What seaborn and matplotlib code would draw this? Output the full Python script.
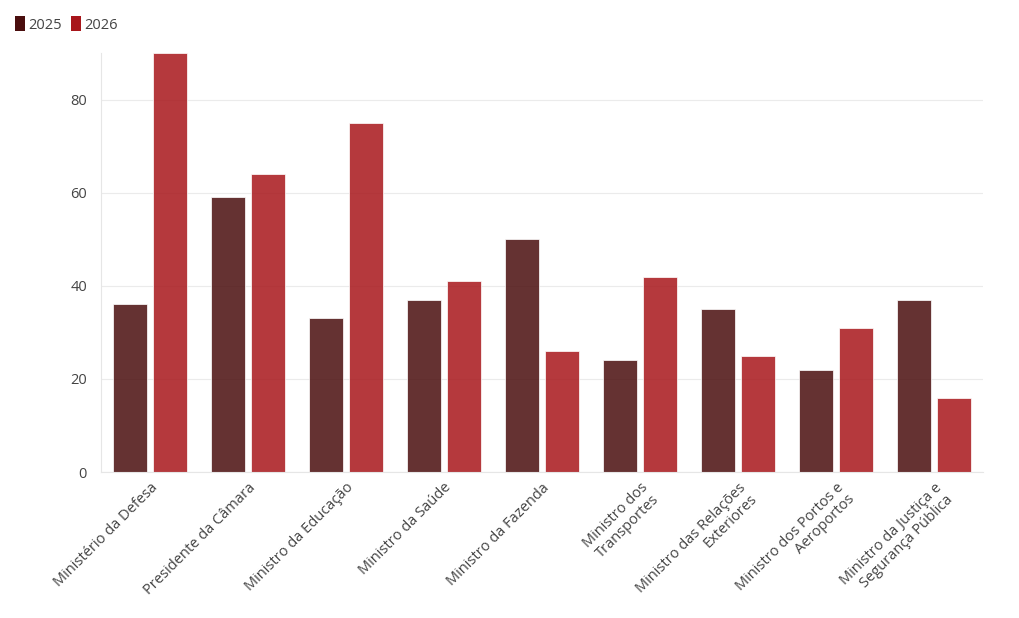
import matplotlib.pyplot as plt
import matplotlib.patches as mpatches
import seaborn as sns
import pandas as pd

sns.set_theme(style="white")
plt.rcParams["font.family"] = ["Open Sans", "DejaVu Sans"]

# data
cargos = [
    "Ministério da Defesa",
    "Presidente da Câmara",
    "Ministro da Educação",
    "Ministro da Saúde",
    "Ministro da Fazenda",
    "Ministro dos\nTransportes",
    "Ministro das Relações\nExteriores",
    "Ministro dos Portos e\nAeroportos",
    "Ministro da Justiça e\nSegurança Pública",
]
v2025 = [36, 59, 33, 37, 50, 24, 35, 22, 37]
v2026 = [90, 64, 75, 41, 26, 42, 25, 31, 16]
anos = ["2025", "2026"]
cores = {"2025": "#4a0e0e", "2026": "#a8161b"}

df = pd.DataFrame({
    "cargo": cargos * 2,
    "ano": ["2025"] * len(cargos) + ["2026"] * len(cargos),
    "valor": v2025 + v2026,
})

fig = plt.figure(figsize=(10.2, 6.18), dpi=100)
ax = fig.add_axes([0.099, 0.2362, 0.8647, 0.6778])

sns.barplot(data=df, x="cargo", y="valor", hue="ano", hue_order=anos,
            palette=cores, saturation=1, width=0.8, gap=0.13, alpha=0.85,
            edgecolor="white", linewidth=0.6, legend=False, ax=ax)

ax.set_xlim(-0.5, len(cargos) - 0.5)
ax.set_ylim(0, 90)
ax.set_yticks([0, 20, 40, 60, 80])
ax.set_xlabel("")
ax.set_ylabel("")
ax.grid(axis="y", color="#ebebeb", linewidth=0.8)
ax.set_axisbelow(True)
for s in ["top", "right"]:
    ax.spines[s].set_visible(False)
for s in ["left", "bottom"]:
    ax.spines[s].set_color("#e6e6e6")
    ax.spines[s].set_linewidth(0.8)
ax.tick_params(axis="both", length=0, colors="#444444", labelsize=10.5)
ax.tick_params(axis="y", pad=10)
ax.tick_params(axis="x", pad=6)
for lab in ax.get_xticklabels():
    lab.set_rotation(45)
    lab.set_ha("right")
    lab.set_rotation_mode("anchor")
    lab.set_multialignment("right")
    lab.set_linespacing(1.12)

handles = [mpatches.FancyBboxPatch((0, 0), 1, 1, boxstyle="round,pad=0.1",
                                   facecolor=cores[a], edgecolor="none")
           for a in anos]
fig.legend(handles=handles, labels=anos, loc="upper left",
           bbox_to_anchor=(0.002, 0.995), ncol=2, frameon=False,
           handlelength=0.7, handleheight=1.2, handletextpad=0.2,
           columnspacing=0.6, fontsize=10.5, labelcolor="#444444")

fig.savefig("out.png", dpi=100)
